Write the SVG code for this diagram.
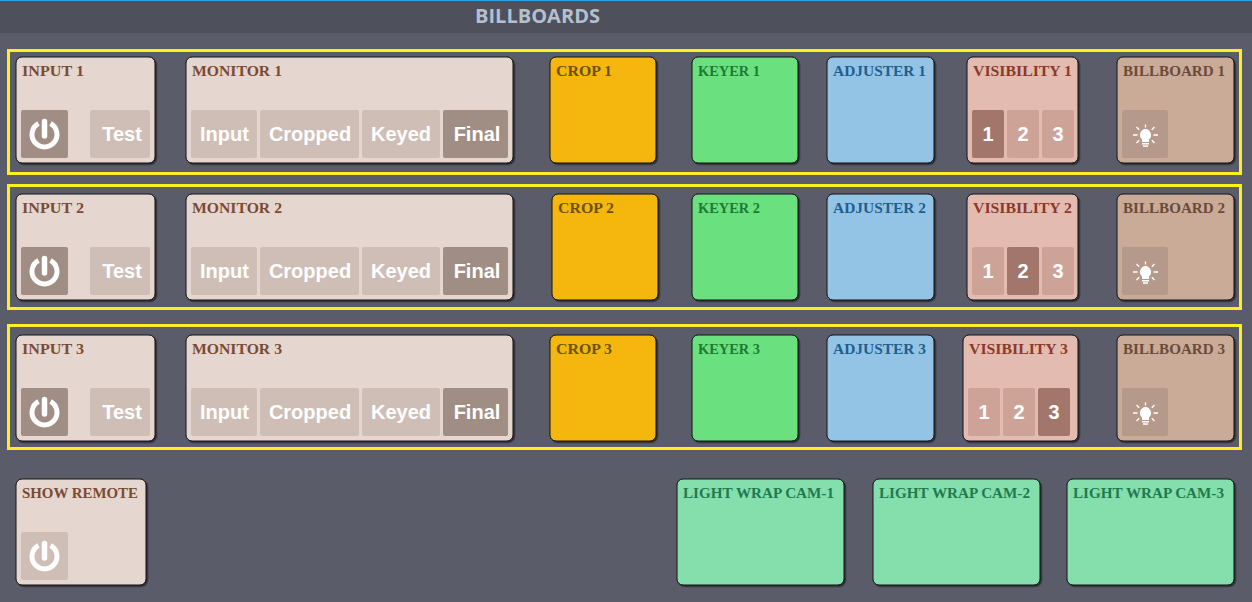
<svg xmlns="http://www.w3.org/2000/svg" width="1252" height="602" viewBox="0 0 1252 602">
<style>
.card{stroke:#111;stroke-width:1;filter:url(#sh)}
.frame{fill:none;stroke:#ffee22;stroke-width:3}
.t{font:bold 15.5px "Liberation Serif","DejaVu Serif",serif}
.b{font:bold 20px "Liberation Sans",Arial,sans-serif;fill:#fff;text-anchor:middle}
.m{fill:#e5d6cf}.mb{fill:#cfbeb6}.ma{fill:#a08e84}.mt{fill:#7a4b32}
.vb{fill:#cda398}.va{fill:#a3766b}
</style>
<defs>
<filter id="sh" x="-5%" y="-5%" width="112%" height="112%"><feDropShadow dx="1.5" dy="1.5" stdDeviation=".7" flood-color="#000" flood-opacity=".5"/></filter>
<g id="pw" fill="none" stroke="#fff" stroke-linecap="round"><path d="M-6 -10.500A12.500 12.500 0 1 0 6 -10.500" stroke-width="5" stroke-linecap="butt"/><path d="M0 -12.500V2" stroke-width="5.500"/></g>
<g id="bulb" fill="#fff"><path d="M0 -5a6 6 0 0 1 3.500 10.500v2.500h-7v-2.500a6 6 0 0 1 3.500 -10.500z"/><rect x="-3.500" y="9" width="7" height="1.500"/><rect x="-2.500" y="11.300" width="5" height="1.500"/><path d="M-12.500 1h4.500M8 1h4.500M-9 -7l2.700 2.700M9 -7l-2.700 2.700M-9 9l2.700 -2.700M9 9l-2.700 -2.700M0 -9.500v3" stroke="#fff" stroke-width="1.300" fill="none"/></g>
</defs>
<rect width="1252" height="602" fill="#5a5c69"/>
<rect y="1" width="1252" height="32" fill="#4e505b"/>
<rect width="1252" height="1" fill="#2aa6e0"/>
<text x="537.500" y="23" text-anchor="middle" font-family="Open Sans,sans-serif" font-weight="700" font-size="20" fill="#b4bfd0" textLength="125" lengthAdjust="spacingAndGlyphs">BILLBOARDS</text>
<g id="frames">
<rect class="frame" x="8.500" y="50.500" width="1232" height="123"/>
<rect class="frame" x="8.500" y="185.500" width="1232" height="123"/>
<rect class="frame" x="8.500" y="325.500" width="1232" height="123"/>
</g>
<g id="row1">
<g id="input-1"><rect class="card m" x="16" y="57" width="139" height="106" rx="6"/><text class="t mt" x="22" y="76" textLength="62" lengthAdjust="spacingAndGlyphs">INPUT 1</text><rect class="ma" x="21" y="110" width="47" height="48" rx="2"/><use href="#pw" x="44.500" y="134"/><rect class="mb" x="90" y="110" width="60" height="48" rx="2"/><text class="b" x="122" y="141">Test</text></g>
<g id="monitor-1"><rect class="card m" x="186" y="57" width="327" height="106" rx="6"/><text class="t mt" x="192" y="76" textLength="90" lengthAdjust="spacingAndGlyphs">MONITOR 1</text><rect class="mb" x="191" y="110" width="66" height="48" rx="2"/><text class="b" x="224.500" y="141">Input</text><rect class="mb" x="260" y="110" width="99" height="48" rx="2"/><text class="b" x="310" y="141">Cropped</text><rect class="mb" x="362" y="110" width="78" height="48" rx="2"/><text class="b" x="401" y="141">Keyed</text><rect class="ma" x="443" y="110" width="65" height="48" rx="2"/><text class="b" x="477" y="141">Final</text></g>
<g id="crop-1"><rect class="card" fill="#f5b710" x="550" y="57" width="106" height="106" rx="6"/><text class="t" fill="#6b5200" x="556" y="76" textLength="56" lengthAdjust="spacingAndGlyphs">CROP 1</text></g>
<g id="keyer-1"><rect class="card" fill="#6be07f" x="692" y="57" width="106" height="106" rx="6"/><text class="t" fill="#1d7a35" x="698" y="76" textLength="62" lengthAdjust="spacingAndGlyphs">KEYER 1</text></g>
<g id="adjuster-1"><rect class="card" fill="#94c4e5" x="827" y="57" width="107" height="106" rx="6"/><text class="t" fill="#1f5f8f" x="833" y="76" textLength="93" lengthAdjust="spacingAndGlyphs">ADJUSTER 1</text></g>
<g id="visibility-1"><rect class="card" fill="#e4bbb1" x="967" y="57" width="111" height="106" rx="6"/><text class="t" fill="#8a3a28" x="973" y="76" textLength="99" lengthAdjust="spacingAndGlyphs">VISIBILITY 1</text><rect class="va" x="972" y="110" width="32" height="48" rx="2"/><text class="b" x="988" y="141">1</text><rect class="vb" x="1007" y="110" width="32" height="48" rx="2"/><text class="b" x="1023" y="141">2</text><rect class="vb" x="1042" y="110" width="32" height="48" rx="2"/><text class="b" x="1058" y="141">3</text></g>
<g id="billboard-1"><rect class="card" fill="#c9ab98" x="1117" y="57" width="117" height="106" rx="6"/><text class="t" fill="#6b4a38" x="1123" y="76" textLength="102" lengthAdjust="spacingAndGlyphs">BILLBOARD 1</text><rect fill="#b59a8b" x="1122" y="110" width="46" height="48" rx="2"/><use href="#bulb" x="1145.500" y="134"/></g>
</g>
<g id="row2" transform="translate(0,137)">
<g id="input-2"><rect class="card m" x="16" y="57" width="139" height="106" rx="6"/><text class="t mt" x="22" y="76" textLength="62" lengthAdjust="spacingAndGlyphs">INPUT 2</text><rect class="ma" x="21" y="110" width="47" height="48" rx="2"/><use href="#pw" x="44.500" y="134"/><rect class="mb" x="90" y="110" width="60" height="48" rx="2"/><text class="b" x="122" y="141">Test</text></g>
<g id="monitor-2"><rect class="card m" x="186" y="57" width="327" height="106" rx="6"/><text class="t mt" x="192" y="76" textLength="90" lengthAdjust="spacingAndGlyphs">MONITOR 2</text><rect class="mb" x="191" y="110" width="66" height="48" rx="2"/><text class="b" x="224.500" y="141">Input</text><rect class="mb" x="260" y="110" width="99" height="48" rx="2"/><text class="b" x="310" y="141">Cropped</text><rect class="mb" x="362" y="110" width="78" height="48" rx="2"/><text class="b" x="401" y="141">Keyed</text><rect class="ma" x="443" y="110" width="65" height="48" rx="2"/><text class="b" x="477" y="141">Final</text></g>
<g id="crop-2"><rect class="card" fill="#f5b710" x="552" y="57" width="106" height="106" rx="6"/><text class="t" fill="#6b5200" x="558" y="76" textLength="56" lengthAdjust="spacingAndGlyphs">CROP 2</text></g>
<g id="keyer-2"><rect class="card" fill="#6be07f" x="692" y="57" width="106" height="106" rx="6"/><text class="t" fill="#1d7a35" x="698" y="76" textLength="62" lengthAdjust="spacingAndGlyphs">KEYER 2</text></g>
<g id="adjuster-2"><rect class="card" fill="#94c4e5" x="827" y="57" width="107" height="106" rx="6"/><text class="t" fill="#1f5f8f" x="833" y="76" textLength="93" lengthAdjust="spacingAndGlyphs">ADJUSTER 2</text></g>
<g id="visibility-2"><rect class="card" fill="#e4bbb1" x="967" y="57" width="111" height="106" rx="6"/><text class="t" fill="#8a3a28" x="973" y="76" textLength="99" lengthAdjust="spacingAndGlyphs">VISIBILITY 2</text><rect class="vb" x="972" y="110" width="32" height="48" rx="2"/><text class="b" x="988" y="141">1</text><rect class="va" x="1007" y="110" width="32" height="48" rx="2"/><text class="b" x="1023" y="141">2</text><rect class="vb" x="1042" y="110" width="32" height="48" rx="2"/><text class="b" x="1058" y="141">3</text></g>
<g id="billboard-2"><rect class="card" fill="#c9ab98" x="1117" y="57" width="117" height="106" rx="6"/><text class="t" fill="#6b4a38" x="1123" y="76" textLength="102" lengthAdjust="spacingAndGlyphs">BILLBOARD 2</text><rect fill="#b59a8b" x="1122" y="110" width="46" height="48" rx="2"/><use href="#bulb" x="1145.500" y="134"/></g>
</g>
<g id="row3" transform="translate(0,278)">
<g id="input-3"><rect class="card m" x="16" y="57" width="139" height="106" rx="6"/><text class="t mt" x="22" y="76" textLength="62" lengthAdjust="spacingAndGlyphs">INPUT 3</text><rect class="ma" x="21" y="110" width="47" height="48" rx="2"/><use href="#pw" x="44.500" y="134"/><rect class="mb" x="90" y="110" width="60" height="48" rx="2"/><text class="b" x="122" y="141">Test</text></g>
<g id="monitor-3"><rect class="card m" x="186" y="57" width="327" height="106" rx="6"/><text class="t mt" x="192" y="76" textLength="90" lengthAdjust="spacingAndGlyphs">MONITOR 3</text><rect class="mb" x="191" y="110" width="66" height="48" rx="2"/><text class="b" x="224.500" y="141">Input</text><rect class="mb" x="260" y="110" width="99" height="48" rx="2"/><text class="b" x="310" y="141">Cropped</text><rect class="mb" x="362" y="110" width="78" height="48" rx="2"/><text class="b" x="401" y="141">Keyed</text><rect class="ma" x="443" y="110" width="65" height="48" rx="2"/><text class="b" x="477" y="141">Final</text></g>
<g id="crop-3"><rect class="card" fill="#f5b710" x="550" y="57" width="106" height="106" rx="6"/><text class="t" fill="#6b5200" x="556" y="76" textLength="56" lengthAdjust="spacingAndGlyphs">CROP 3</text></g>
<g id="keyer-3"><rect class="card" fill="#6be07f" x="692" y="57" width="106" height="106" rx="6"/><text class="t" fill="#1d7a35" x="698" y="76" textLength="62" lengthAdjust="spacingAndGlyphs">KEYER 3</text></g>
<g id="adjuster-3"><rect class="card" fill="#94c4e5" x="827" y="57" width="107" height="106" rx="6"/><text class="t" fill="#1f5f8f" x="833" y="76" textLength="93" lengthAdjust="spacingAndGlyphs">ADJUSTER 3</text></g>
<g id="visibility-3"><rect class="card" fill="#e4bbb1" x="963" y="57" width="115" height="106" rx="6"/><text class="t" fill="#8a3a28" x="969" y="76" textLength="99" lengthAdjust="spacingAndGlyphs">VISIBILITY 3</text><rect class="vb" x="968" y="110" width="32" height="48" rx="2"/><text class="b" x="984" y="141">1</text><rect class="vb" x="1003" y="110" width="32" height="48" rx="2"/><text class="b" x="1019" y="141">2</text><rect class="va" x="1038" y="110" width="32" height="48" rx="2"/><text class="b" x="1054" y="141">3</text></g>
<g id="billboard-3"><rect class="card" fill="#c9ab98" x="1117" y="57" width="117" height="106" rx="6"/><text class="t" fill="#6b4a38" x="1123" y="76" textLength="102" lengthAdjust="spacingAndGlyphs">BILLBOARD 3</text><rect fill="#b59a8b" x="1122" y="110" width="46" height="48" rx="2"/><use href="#bulb" x="1145.500" y="134"/></g>
</g>
<g id="show-remote"><rect class="card m" x="16" y="479" width="130" height="106" rx="6"/><text class="t mt" x="22" y="498" textLength="116" lengthAdjust="spacingAndGlyphs">SHOW REMOTE</text><rect class="mb" x="21" y="532" width="47" height="48" rx="2"/><use href="#pw" x="44.500" y="556"/></g>
<g id="light-wrap-1"><rect class="card" fill="#84dfac" x="677" y="479" width="167" height="106" rx="6"/><text class="t" fill="#1f7a50" x="683" y="498" textLength="151" lengthAdjust="spacingAndGlyphs">LIGHT WRAP CAM-1</text></g>
<g id="light-wrap-2"><rect class="card" fill="#84dfac" x="873" y="479" width="167" height="106" rx="6"/><text class="t" fill="#1f7a50" x="879" y="498" textLength="151" lengthAdjust="spacingAndGlyphs">LIGHT WRAP CAM-2</text></g>
<g id="light-wrap-3"><rect class="card" fill="#84dfac" x="1067" y="479" width="167" height="106" rx="6"/><text class="t" fill="#1f7a50" x="1073" y="498" textLength="151" lengthAdjust="spacingAndGlyphs">LIGHT WRAP CAM-3</text></g>
</svg>
